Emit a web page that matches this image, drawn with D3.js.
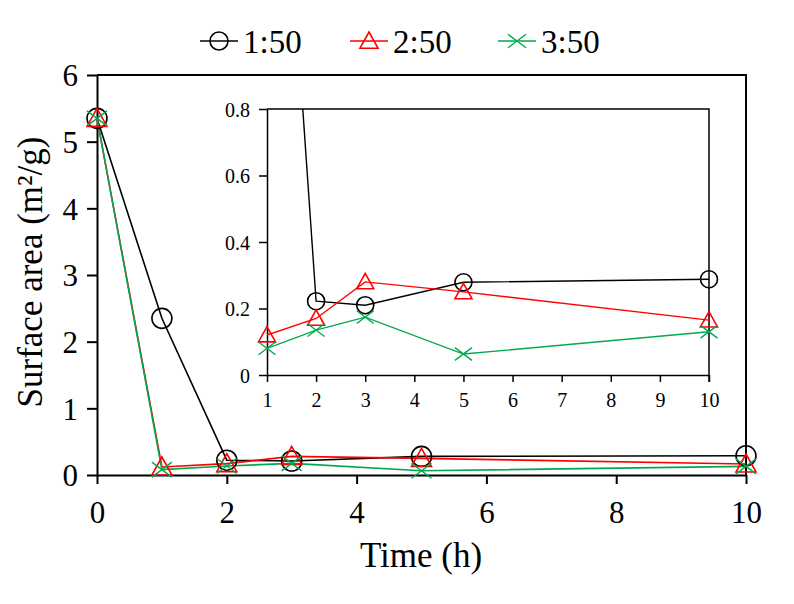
<!DOCTYPE html>
<html>
<head>
<meta charset="utf-8">
<script src="https://cdn.jsdelivr.net/npm/d3@7"></script>
<style>
  body { margin: 0; background: #fff; }
  text { font-family: "Liberation Serif", "Times New Roman", serif !important; fill: #000; }
</style>
</head>
<body>
<svg width="794" height="604"></svg>
<script>
// data
const times = [0, 1, 2, 3, 5, 10];
const ratio1 = [5.35, 2.35, 0.222, 0.21, 0.279, 0.288];
const ratio2 = [5.35, 0.12, 0.17, 0.28, 0.25, 0.165];
const ratio3 = [5.35, 0.08, 0.135, 0.174, 0.063, 0.13];
const seriesNames = ["1:50", "2:50", "3:50"];
const seriesColors = ["#000000", "#ff0000", "#00a84f"];
const seriesShapes = ["circle", "triangle", "cross"];
const mainXTicks = [0, 2, 4, 6, 8, 10];
const mainYTicks = [0, 1, 2, 3, 4, 5, 6];
const insetXTicks = [1, 2, 3, 4, 5, 6, 7, 8, 9, 10];
const insetYTicks = [0, 0.2, 0.4, 0.6, 0.8];

const allSeries = [ratio1, ratio2, ratio3].map((vals, i) => ({
  name: seriesNames[i],
  color: seriesColors[i],
  shape: seriesShapes[i],
  points: times.map((t, j) => ({ x: t, y: vals[j] }))
}));

let svg = d3.select("svg");
const serif = '"Liberation Serif", "Times New Roman", serif';

// draws one marker
function marker(g, shape, x, y, s, color) {
  if (shape == "circle") {
    g.append("circle").attr("cx", x).attr("cy", y).attr("r", s)
      .attr("fill", "none").attr("stroke", color).attr("stroke-width", 1.6);
  } else if (shape == "triangle") {
    g.append("path")
      .attr("d", `M${x},${y - s}L${x + s},${y + s * 0.8}L${x - s},${y + s * 0.8}Z`)
      .attr("fill", "none").attr("stroke", color).attr("stroke-width", 1.6);
  } else {
    g.append("path")
      .attr("d", `M${x - s},${y - s * 0.75}L${x + s},${y + s * 0.75}M${x - s},${y + s * 0.75}L${x + s},${y - s * 0.75}`)
      .attr("fill", "none").attr("stroke", color).attr("stroke-width", 1.4);
  }
}

function styleAxis(a, size, width) {
  a.attr("font-family", serif);
  a.selectAll("path, line").attr("stroke", "#000").attr("stroke-width", width);
  a.selectAll("text").style("font-size", size + "px");
}

// ---- main chart ----
let xScale = d3.scaleLinear().domain([0, 10]).range([97, 746]);
let yScale = d3.scaleLinear().domain([0, 6]).range([475, 75]);

let xAxis = svg.append("g").attr("transform", "translate(0,475)")
  .call(d3.axisBottom(xScale).tickValues(mainXTicks).tickFormat(d => d).tickSize(9).tickSizeOuter(0).tickPadding(10));
let yAxis = svg.append("g").attr("transform", "translate(97,0)")
  .call(d3.axisLeft(yScale).tickValues(mainYTicks).tickFormat(d => d).tickSize(10).tickSizeOuter(0).tickPadding(9));
styleAxis(xAxis, 31, 2);
styleAxis(yAxis, 31, 2);
xAxis.selectAll("text").attr("dy", "0.93em");
yAxis.selectAll("text").attr("dy", "0.35em");

// top and right frame
svg.append("path")
  .attr("d", `M${xScale(0)},${yScale(6)}H${xScale(10)}V${yScale(0)}`)
  .attr("fill", "none").attr("stroke", "#000").attr("stroke-width", 2);

let line = d3.line().x(d => xScale(d.x)).y(d => yScale(d.y));
allSeries.forEach(s => {
  svg.append("path").datum(s.points).attr("d", line)
    .attr("fill", "none").attr("stroke", s.color).attr("stroke-width", 1.6);
});
allSeries.forEach(s => {
  let g = svg.append("g");
  s.points.forEach(p => marker(g, s.shape, xScale(p.x), yScale(p.y), 10, s.color));
});

svg.append("text").attr("x", 421).attr("y", 567)
  .attr("text-anchor", "middle").style("font-size", "35px").text("Time (h)");
svg.append("text").attr("transform", "translate(42,272) rotate(-90)")
  .attr("text-anchor", "middle").style("font-size", "35px").text("Surface area (m²/g)");

// ---- inset ----
let ixScale = d3.scaleLinear().domain([1, 10]).range([267, 709]);
let iyScale = d3.scaleLinear().domain([0, 0.8]).range([375, 109]);

svg.append("defs").append("clipPath").attr("id", "insetClip")
  .append("rect").attr("x", 267).attr("y", 109).attr("width", 442).attr("height", 266);

let ix = svg.append("g").attr("transform", "translate(0,375)")
  .call(d3.axisBottom(ixScale).tickValues(insetXTicks).tickFormat(d => d).tickSize(7).tickSizeOuter(0).tickPadding(6));
let iy = svg.append("g").attr("transform", "translate(267,0)")
  .call(d3.axisLeft(iyScale).tickValues(insetYTicks).tickFormat(d => d).tickSize(8).tickSizeOuter(0).tickPadding(9));
styleAxis(ix, 20, 1.5);
styleAxis(iy, 20, 1.5);
ix.selectAll("text").attr("dy", "0.95em");
iy.selectAll("text").attr("dy", "0.35em");

svg.append("path")
  .attr("d", `M${ixScale(1)},${iyScale(0.8)}H${ixScale(10)}V${iyScale(0) + 7}`)
  .attr("fill", "none").attr("stroke", "#000").attr("stroke-width", 1.5);

let iline = d3.line().x(d => ixScale(d.x)).y(d => iyScale(d.y));
allSeries.forEach(s => {
  svg.append("path").datum(s.points.filter(p => p.x >= 1)).attr("d", iline)
    .attr("clip-path", "url(#insetClip)")
    .attr("fill", "none").attr("stroke", s.color).attr("stroke-width", 1.4);
});
allSeries.forEach(s => {
  let g = svg.append("g");
  s.points.filter(p => p.x >= 1 && p.y <= 0.8)
    .forEach(p => marker(g, s.shape, ixScale(p.x), iyScale(p.y), 8.5, s.color));
});

// ---- legend ----
const legendX = [200, 350, 498];
allSeries.forEach((s, i) => {
  let g = svg.append("g").attr("transform", `translate(${legendX[i]},41)`);
  g.append("line").attr("x1", 0).attr("x2", 38).attr("y1", 0).attr("y2", 0)
    .attr("stroke", s.color).attr("stroke-width", 1.6);
  marker(g, s.shape, 19, 0, 9, s.color);
  g.append("text").attr("x", 43).attr("y", 12).style("font-size", "33px").text(s.name);
});
</script>
</body>
</html>
